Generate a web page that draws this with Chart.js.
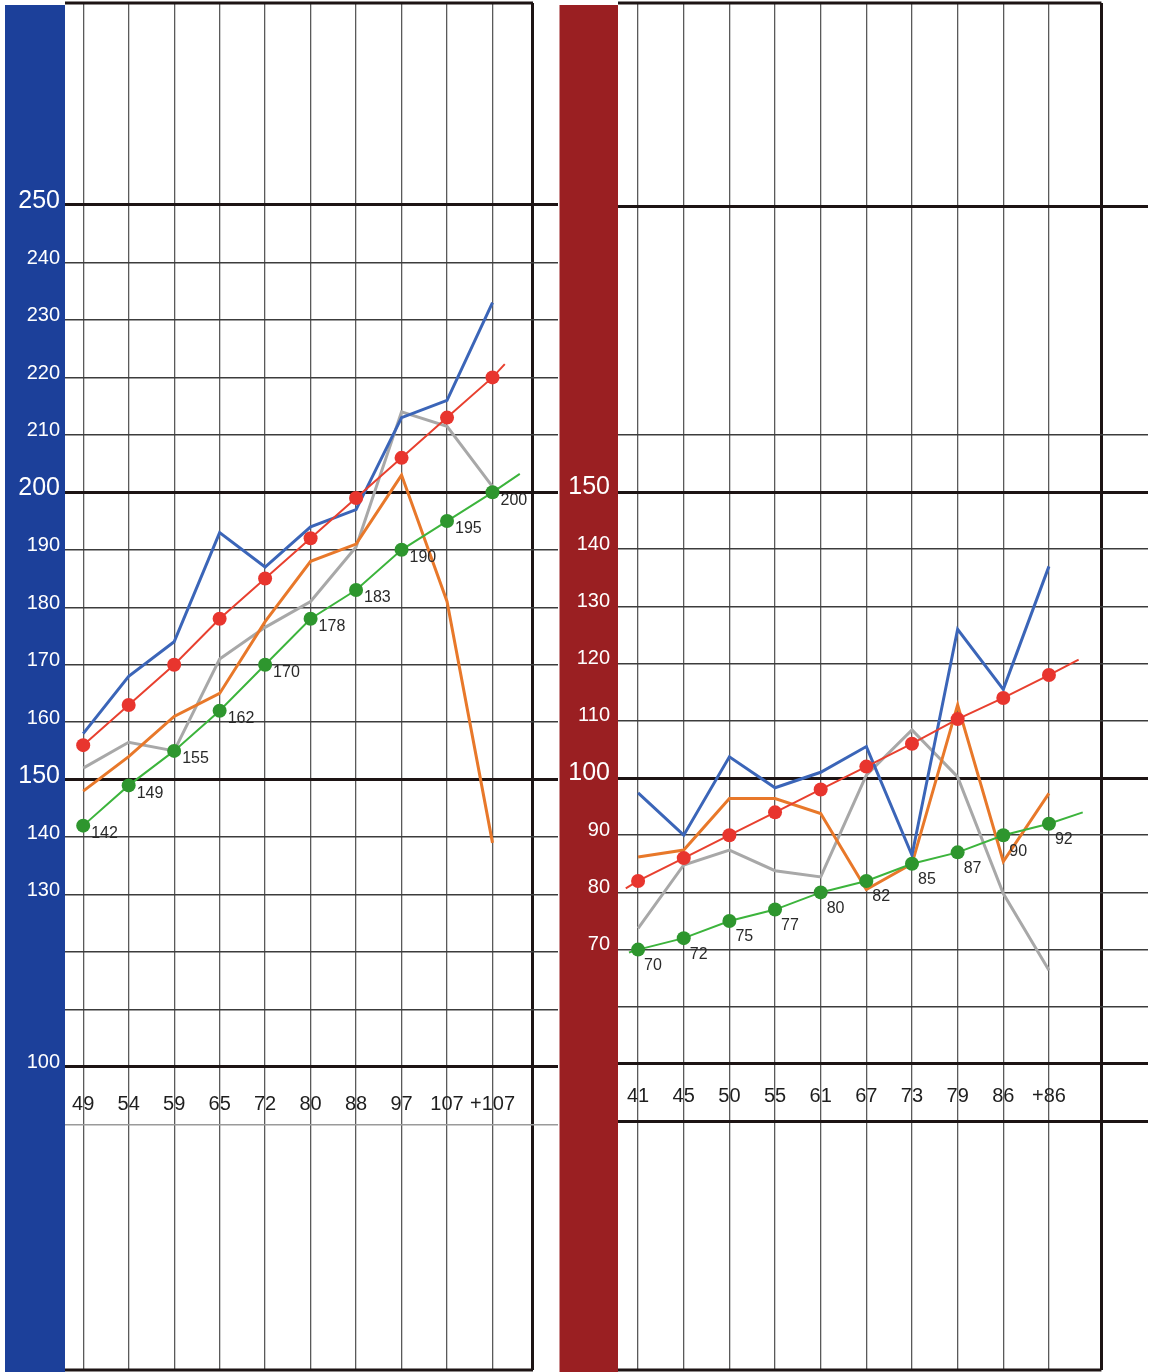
<!DOCTYPE html>
<html>
<head>
<meta charset="utf-8">
<script src="https://cdn.jsdelivr.net/npm/chart.js@4.4.1/dist/chart.umd.min.js"></script>
<style>
  body { margin: 0; background: #fff; width: 1150px; height: 1372px; position: relative; overflow: hidden; }
  canvas { position: absolute; top: 0; }
  #leftChart { left: 0; }
  #rightChart { left: 540px; }
</style>
</head>
<body>
<canvas id="leftChart" width="560" height="1372"></canvas>
<canvas id="rightChart" width="610" height="1372"></canvas>
<script>
const FONT = "'Liberation Sans Narrow', 'Liberation Sans', Arial, sans-serif";

// left panel
const leftLabels = ['49', '54', '59', '65', '72', '80', '88', '97', '107', '+107'];
const leftBlue   = [158, 168, 174, 193, 187, 194, 197, 213, 216, 233];
const leftOrange = [148, 154, 161, 165, 177.5, 188, 191, 203, 181, 139];
const leftGrey   = [152, 156.5, 155, 171, 176.5, 181, 190.5, 214, 211.5, 201];
const leftRed    = [156, 163, 170, 178, 185, 192, 199, 206, 213, 220];
const leftGreen  = [142, 149, 155, 162, 170, 178, 183, 190, 195, 200];
const leftRedTail   = [9.27, 222.3];
const leftGreenTail = [9.6, 203.2];
const leftYTicks  = [90, 100, 110, 120, 130, 140, 150, 160, 170, 180, 190, 200, 210, 220, 230, 240, 250];
const leftYLabels = [250, 240, 230, 220, 210, 200, 190, 180, 170, 160, 150, 140, 130, 100];
const leftBold = [100, 150, 200, 250];
const leftBig  = [250, 200, 150];

// right panel
const rightLabels = ['41', '45', '50', '55', '61', '67', '73', '79', '86', '+86'];
const rightBlue   = [97.4, 90, 103.7, 98.3, 101, 105.5, 86.5, 126, 115.5, 137];
const rightOrange = [86.2, 87.4, 96.4, 96.4, 93.8, 80.5, 85, 112.8, 85.4, 97.3];
const rightGrey   = [73.7, 84.8, 87.4, 83.8, 82.7, 100.5, 108.4, 100.2, 79.8, 66.4];
const rightRed    = [82, 86, 90, 94, 98, 102, 106, 110.3, 114, 118];
const rightGreen  = [70, 72, 75, 77, 80, 82, 85, 87, 90, 92];
const rightRedHead   = [-0.27, 80.7];
const rightRedTail   = [9.65, 120.7];
const rightGreenHead = [-0.2, 69.5];
const rightGreenTail = [9.74, 94];
const rightYTicks  = [40, 50, 60, 70, 80, 90, 100, 110, 120, 130, 140, 150, 160, 200];
const rightYLabels = [150, 140, 130, 120, 110, 100, 90, 80, 70];
const rightBold = [40, 50, 100, 150, 200];
const rightBig  = [150, 100];

function pts(values, head, tail) {
    const out = values.map((v, i) => ({ x: i, y: v }));
    if (head) out.unshift({ x: head[0], y: head[1], tail: true });
    if (tail) out.push({ x: tail[0], y: tail[1], tail: true });
    return out;
}

const panelDecor = {
    id: 'panelDecor',
    beforeDraw(chart, args, opts) {
        const { ctx, chartArea } = chart;
        ctx.save();
        ctx.fillStyle = opts.band;
        ctx.fillRect(opts.bandLeft, 5, chartArea.left - opts.bandLeft, chart.height - 5);
        ctx.restore();
    },
    beforeDatasetsDraw(chart, args, opts) {
        // top and bottom frame, only as wide as the panel border
        const { ctx, chartArea } = chart;
        const right = chart.scales.x.getPixelForValue(opts.border);
        ctx.save();
        ctx.strokeStyle = '#1d1414';
        ctx.lineWidth = 3;
        ctx.beginPath();
        ctx.moveTo(chartArea.left, chartArea.top);
        ctx.lineTo(right, chartArea.top);
        ctx.moveTo(chartArea.left, chartArea.bottom);
        ctx.lineTo(right, chartArea.bottom);
        ctx.stroke();
        ctx.restore();
    },
    afterDatasetsDraw(chart, args, opts) {
        const { ctx } = chart;
        const xs = chart.scales.x, ys = chart.scales.y;
        ctx.save();
        ctx.fillStyle = '#1e1e1e';
        ctx.font = '20px ' + FONT;
        ctx.textAlign = 'center';
        ctx.textBaseline = 'middle';
        opts.categories.forEach((c, i) => {
            ctx.fillText(c, xs.getPixelForValue(i), ys.getPixelForValue(opts.labelLevel));
        });

        // value labels next to the green markers
        const dsIndex = chart.data.datasets.findIndex(d => d.valueLabels);
        const meta = chart.getDatasetMeta(dsIndex);
        const data = chart.data.datasets[dsIndex].data;
        ctx.font = '16px ' + FONT;
        ctx.textAlign = 'left';
        ctx.fillStyle = '#2a2a2a';
        meta.data.forEach((pt, i) => {
            if (data[i].tail) return;
            ctx.fillText(String(data[i].y), pt.x + opts.dx, pt.y + opts.dy);
        });
        ctx.restore();
    }
};

function buildPanel(id, p) {
    const markerRadius = c => (c.raw && c.raw.tail ? 0 : 7);
    const tv = c => (c && c.tick ? c.tick.value : null);
    const isBoldY = v => p.bold.includes(v);
    return new Chart(document.getElementById(id), {
        type: 'line',
        data: {
            datasets: [
                { data: p.green, borderColor: '#3cb43c', backgroundColor: '#2e962e', borderWidth: 2,
                  pointRadius: markerRadius, pointBorderWidth: 0, valueLabels: true },
                { data: p.red, borderColor: '#e8402f', backgroundColor: '#e8352e', borderWidth: 2,
                  pointRadius: markerRadius, pointBorderWidth: 0 },
                { data: p.blue, borderColor: '#3b65b8', borderWidth: 3, pointRadius: 0 },
                { data: p.orange, borderColor: '#e8782a', borderWidth: 3, pointRadius: 0 },
                { data: p.grey, borderColor: '#a8a8a8', borderWidth: 3, pointRadius: 0 }
            ]
        },
        plugins: [panelDecor],
        options: {
            responsive: false,
            animation: false,
            devicePixelRatio: 1,
            layout: { autoPadding: false, padding: { top: 3, bottom: 2, left: 0, right: p.padRight } },
            elements: { line: { tension: 0 } },
            plugins: {
                legend: { display: false },
                tooltip: { enabled: false },
                panelDecor: {
                    band: p.band, bandLeft: p.bandLeft, categories: p.categories, border: p.xBorder,
                    labelLevel: p.labelLevel, dx: p.dx, dy: p.dy
                }
            },
            scales: {
                x: {
                    type: 'linear',
                    min: p.xMin,
                    max: p.xMax,
                    afterBuildTicks: s => {
                        s.ticks = p.categories.map((c, i) => ({ value: i })).concat([{ value: p.xBorder }]);
                    },
                    afterFit: s => { s.height = 0; s.paddingLeft = 0; s.paddingRight = 0; },
                    ticks: { display: false },
                    border: { display: false, color: '#5a5a5a', width: 1 },
                    grid: {
                        drawTicks: false,
                        color: c => (tv(c) === p.xBorder ? '#1d1414' : '#5a5a5a'),
                        lineWidth: c => (tv(c) === p.xBorder ? 3 : 1.3)
                    }
                },
                y: {
                    type: 'linear',
                    min: p.yMin,
                    max: p.yMax,
                    afterBuildTicks: s => {
                        s.ticks = p.yTicks.map(v => ({ value: v }));
                    },
                    afterFit: s => { s.width = p.axisWidth; s.paddingTop = 0; s.paddingBottom = 0; },
                    border: { display: false, color: '#3c3c3c', width: 1 },
                    ticks: {
                        autoSkip: false,
                        padding: p.tickPad,
                        labelOffset: p.labelOffset,
                        color: '#ffffff',
                        font: c => ({ family: FONT, size: p.big.includes(tv(c)) ? 25 : 20 }),
                        callback: v => (p.yLabels.includes(v) ? String(v) : '')
                    },
                    grid: {
                        drawTicks: false,
                        color: c => {
                            const v = tv(c);
                            if (isBoldY(v)) return '#1d1414';
                            if (v === p.faint) return '#9a9a9a';
                            return '#3c3c3c';
                        },
                        lineWidth: c => (isBoldY(tv(c)) ? 3 : 1.5)
                    }
                }
            }
        }
    });
}

buildPanel('leftChart', {
    categories: leftLabels,
    blue: pts(leftBlue), orange: pts(leftOrange), grey: pts(leftGrey),
    red: pts(leftRed, null, leftRedTail), green: pts(leftGreen, null, leftGreenTail),
    yTicks: leftYTicks, yLabels: leftYLabels, bold: leftBold, big: leftBig, faint: 90,
    xMin: -0.4, xMax: 10.44, xBorder: 9.89, yMin: 47.27, yMax: 285.15,
    axisWidth: 65, padRight: 2, band: '#1c409a', bandLeft: 5, tickPad: 5,
    labelLevel: 93.4, labelOffset: -4, dx: 8, dy: 8
});

buildPanel('rightChart', {
    categories: rightLabels,
    blue: pts(rightBlue), orange: pts(rightOrange), grey: pts(rightGrey),
    red: pts(rightRed, rightRedHead, rightRedTail), green: pts(rightGreen, rightGreenHead, rightGreenTail),
    yTicks: rightYTicks, yLabels: rightYLabels, bold: rightBold, big: rightBig, faint: null,
    xMin: -0.44, xMax: 11.17, xBorder: 10.15, yMin: -3.5, yMax: 235.5,
    axisWidth: 78, padRight: 2, band: '#9a1f22', bandLeft: 19.5, tickPad: 8,
    labelLevel: 44.4, labelOffset: -5, dx: 6, dy: 16
});
</script>
</body>
</html>
